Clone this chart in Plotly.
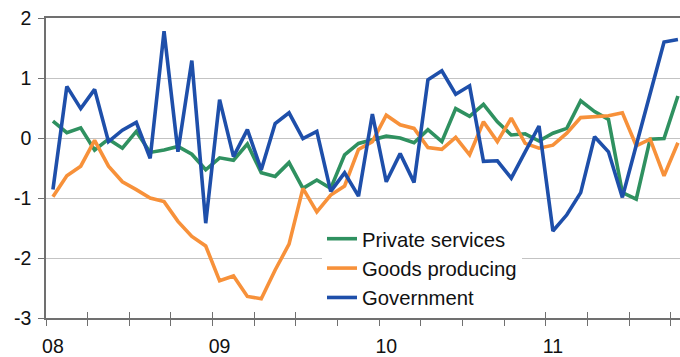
import plotly.graph_objects as go

# Monthly observations, Jan 2008 ... Oct 2011 (category index on the x axis)
months = list(range(46))
year_labels = ["08", "09", "10", "11"]
year_positions = [0, 12, 24, 36]
quarter_ticks = [q - 0.5 for q in range(0, 46, 3)]
y_ticks = [-3, -2, -1, 0, 1, 2]
y_tick_labels = ["-3", "-2", "-1", "0", "1", "2"]

private_services = [0.28, 0.09, 0.17, -0.20, -0.02, -0.17, 0.11, -0.24, -0.20, -0.14,
                    -0.27, -0.53, -0.33, -0.37, -0.10, -0.58, -0.64, -0.41, -0.84, -0.70,
                    -0.84, -0.28, -0.09, -0.03, 0.03, 0.00, -0.08, 0.14, -0.06, 0.49,
                    0.36, 0.56, 0.27, 0.05, 0.07, -0.05, 0.08, 0.16, 0.62, 0.44,
                    0.31, -0.91, -1.02, -0.02, -0.01, 0.70]
goods_producing = [-0.98, -0.63, -0.47, -0.04, -0.47, -0.73, -0.86, -1.00, -1.06, -1.39,
                   -1.64, -1.80, -2.38, -2.30, -2.64, -2.68, -2.20, -1.77, -0.84, -1.23,
                   -0.95, -0.80, -0.19, -0.06, 0.38, 0.22, 0.16, -0.16, -0.19, 0.01,
                   -0.28, 0.27, -0.06, 0.33, -0.09, -0.17, -0.12, 0.08, 0.34, 0.35,
                   0.37, 0.42, -0.13, -0.02, -0.63, -0.08]
government = [-0.86, 0.86, 0.49, 0.81, -0.06, 0.13, 0.26, -0.34, 1.78, -0.23,
              1.29, -1.42, 0.64, -0.31, 0.14, -0.53, 0.24, 0.42, -0.01, 0.11,
              -0.89, -0.58, -0.97, 0.40, -0.73, -0.26, -0.74, 0.97, 1.12, 0.73,
              0.87, -0.39, -0.38, -0.67, -0.23, 0.20, -1.55, -1.28, -0.91, 0.02,
              -0.23, -0.99, -0.12, 0.72, 1.60, 1.64]

series = [
    ("Private services", private_services, "#2F9160"),
    ("Goods producing", goods_producing, "#F7913A"),
    ("Government", government, "#1E4FAA"),
]

fig = go.Figure()
for name, vals, color in series:
    fig.add_trace(go.Scatter(x=months, y=vals, mode="lines", name=name,
                             legendgroup=name,
                             line=dict(color=color, width=3.6)))

# empty carriers so the overlay axes (inner ticks, year labels) get drawn
for ax in ("x2", "x3"):
    fig.add_trace(go.Scatter(x=[], y=[], xaxis=ax, yaxis="y", mode="lines",
                             showlegend=False, hoverinfo="skip"))

font = "Liberation Sans, Arial, sans-serif"
xr = [-0.5, 45.15]
axis_col = "#707070"
text_col = "#111111"

W, H = 680, 357
ML, MT, MB = 46, 18, 39
PH = H - MT - MB  # 300
PW = W - ML       # 634

fig.update_layout(
    width=W, height=H,
    margin=dict(l=ML, r=0, t=MT, b=MB, autoexpand=False),
    paper_bgcolor="white", plot_bgcolor="white",
    font=dict(family=font, size=19.5, color=text_col),
    showlegend=True,
    legend=dict(x=(322 - ML) / PW, y=(318 - 219) / PH, xanchor="left", yanchor="top",
                bgcolor="white", borderwidth=0,
                font=dict(size=20.3, color=text_col),
                traceorder="normal", tracegroupgap=0),
    xaxis=dict(range=xr, showgrid=False, zeroline=False, automargin=False,
               showline=True, linecolor=axis_col, linewidth=1.5, mirror=True,
               tickmode="array", tickvals=quarter_ticks,
               ticktext=[""] * len(quarter_ticks),
               ticks="outside", ticklen=6, tickwidth=1.2, tickcolor=axis_col,
               showticklabels=False),
    xaxis2=dict(range=xr, overlaying="x", anchor="y", side="bottom", automargin=False,
                showgrid=False, zeroline=False, showline=False,
                tickmode="array", tickvals=quarter_ticks,
                ticks="inside", ticklen=6, tickwidth=1.2, tickcolor=axis_col,
                showticklabels=False),
    xaxis3=dict(range=xr, overlaying="x", anchor="y", side="bottom", automargin=False,
                showgrid=False, zeroline=False, showline=False,
                tickmode="array", tickvals=year_positions, ticktext=year_labels,
                ticks="", ticklabelstandoff=14, ticklabeloverflow="allow",
                tickfont=dict(size=19.5, color=text_col)),
    yaxis=dict(range=[-3, 2], tickmode="array", tickvals=y_ticks, ticktext=y_tick_labels,
               automargin=False,
               showgrid=True, gridcolor="#c3c3c3", gridwidth=1.3,
               zeroline=False, showline=True, linecolor=axis_col, linewidth=1.5,
               ticks="outside", ticklen=6, tickwidth=1.2, tickcolor=axis_col,
               ticklabelstandoff=3, ticklabeloverflow="allow",
               tickfont=dict(size=19.5, color=text_col)),
)

fig.write_html(
    "out.html",
    config={"displayModeBar": False},
    post_script="document.body.style.margin='0';document.body.style.overflow='hidden';",
)
